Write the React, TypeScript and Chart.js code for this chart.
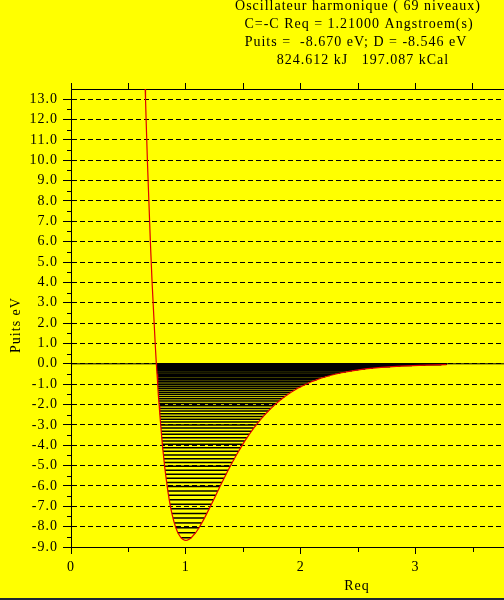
import React, { useEffect, useRef } from 'react';
import { Chart, registerables } from 'chart.js';

Chart.register(...registerables);

// ---- Text ----
const titleLines = [
  'Oscillateur harmonique ( 69 niveaux)',
  'C=-C Req = 1.21000 Angstroem(s)',
  'Puits =  -8.670 eV; D = -8.546 eV',
  '824.612 kJ   197.087 kCal',
];
const xAxisTitle = 'Req';
const yAxisTitle = 'Puits eV';

// ---- Axis ranges ----
const xMin = 0;
const xMax = 3.77;
const yMin = -9;
const yMax = 13.5;

// ---- Vibrational levels (energy in eV, left and right turning points in Req units) ----
const levelE = [
  -8.545, -8.299, -8.056, -7.817, -7.581, -7.349, -7.121, -6.896, -6.675, -6.458,
  -6.244, -6.033, -5.827, -5.624, -5.424, -5.228, -5.036, -4.847, -4.662, -4.480,
  -4.302, -4.128, -3.958, -3.790, -3.627, -3.467, -3.311, -3.158, -3.009, -2.864,
  -2.722, -2.583, -2.449, -2.318, -2.190, -2.066, -1.946, -1.830, -1.717, -1.607,
  -1.501, -1.399, -1.300, -1.205, -1.114, -1.026, -0.942, -0.861, -0.784, -0.711,
  -0.641, -0.575, -0.512, -0.453, -0.398, -0.346, -0.298, -0.254, -0.213, -0.175,
  -0.142, -0.111, -0.085, -0.062, -0.043, -0.027, -0.015, -0.006, -0.001,
];
const levelXL = [
  0.958, 0.930, 0.913, 0.899, 0.888, 0.878, 0.869, 0.862, 0.855, 0.849,
  0.843, 0.837, 0.832, 0.828, 0.823, 0.819, 0.815, 0.811, 0.808, 0.805,
  0.801, 0.798, 0.795, 0.793, 0.790, 0.788, 0.785, 0.783, 0.781, 0.779,
  0.777, 0.775, 0.773, 0.771, 0.769, 0.768, 0.766, 0.765, 0.763, 0.762,
  0.760, 0.759, 0.758, 0.757, 0.756, 0.755, 0.754, 0.753, 0.752, 0.751,
  0.750, 0.750, 0.749, 0.748, 0.748, 0.747, 0.746, 0.746, 0.745, 0.745,
  0.745, 0.744, 0.744, 0.744, 0.743, 0.743, 0.743, 0.743, 0.743,
];
const levelXR = [
  1.047, 1.086, 1.115, 1.139, 1.162, 1.183, 1.203, 1.223, 1.242, 1.261,
  1.279, 1.297, 1.315, 1.333, 1.351, 1.368, 1.386, 1.404, 1.422, 1.440,
  1.458, 1.477, 1.495, 1.514, 1.533, 1.552, 1.571, 1.591, 1.611, 1.632,
  1.653, 1.674, 1.696, 1.718, 1.740, 1.764, 1.787, 1.812, 1.837, 1.862,
  1.889, 1.916, 1.945, 1.974, 2.004, 2.036, 2.068, 2.102, 2.138, 2.175,
  2.214, 2.255, 2.299, 2.345, 2.393, 2.446, 2.502, 2.562, 2.628, 2.700,
  2.779, 2.868, 2.969, 3.086, 3.225, 3.270, 3.270, 3.270, 3.270,
];

// ---- Potential curve (red) ----
const curveX = [
  0.646, 0.649, 0.654, 0.665, 0.678, 0.691, 0.706, 0.724, 0.733, 0.743,
  0.745, 0.749, 0.755, 0.760, 0.768, 0.773, 0.781, 0.788, 0.798, 0.805,
  0.815, 0.828, 0.843, 0.855, 0.869, 0.888, 0.899, 0.913, 0.930, 0.958,
  0.973, 0.988, 1.000, 1.013, 1.029,
  1.047, 1.086, 1.115, 1.139, 1.162, 1.183, 1.223, 1.261, 1.297, 1.333,
  1.368, 1.404, 1.440, 1.477, 1.514, 1.552, 1.591, 1.632, 1.674, 1.718,
  1.764, 1.812, 1.862, 1.916, 1.974, 2.036, 2.102, 2.175, 2.255, 2.345,
  2.446, 2.562, 2.700, 2.868, 3.086, 3.270,
];
const curveY = [
  13.5, 13, 12, 10, 8, 6, 4, 2, 1, 0,
  -0.142, -0.512, -1.026, -1.501, -2.066, -2.449, -3.009, -3.467, -4.128, -4.480,
  -5.036, -5.624, -6.244, -6.675, -7.121, -7.581, -7.817, -8.056, -8.299, -8.545,
  -8.62, -8.66, -8.67, -8.66, -8.62,
  -8.545, -8.299, -8.056, -7.817, -7.581, -7.349, -6.896, -6.458, -6.033, -5.624,
  -5.228, -4.847, -4.480, -4.128, -3.790, -3.467, -3.158, -2.864, -2.583, -2.318,
  -2.066, -1.830, -1.607, -1.399, -1.205, -1.026, -0.861, -0.711, -0.575, -0.453,
  -0.346, -0.254, -0.175, -0.111, -0.062, -0.038,
];

// ---- Zero energy line ----
const zeroLineX = [xMin, xMax];
const zeroLineY = [0, 0];

const FONT = '"Liberation Serif", "Times New Roman", serif';

const decorPlugin = {
  id: 'decor',
  beforeDraw(chart: any) {
    const ctx = chart.ctx;
    ctx.save();
    ctx.fillStyle = '#ffff00';
    ctx.fillRect(0, 0, chart.width, chart.height);
    ctx.restore();
    try { ctx.letterSpacing = '1px'; } catch (e) {}
  },
  afterDraw(chart: any) {
    const ctx = chart.ctx;
    const xs = chart.scales.x;
    const ys = chart.scales.y;
    ctx.save();
    // minor ticks
    ctx.strokeStyle = '#000';
    ctx.lineWidth = 1;
    ctx.beginPath();
    for (let v = yMin + 0.5; v < yMax; v += 1) {
      const p = Math.round(ys.getPixelForValue(v)) + 0.5;
      ctx.moveTo(ys.right - 4, p);
      ctx.lineTo(ys.right, p);
    }
    for (let v = xMin + 0.5; v < xMax; v += 1) {
      const p = Math.round(xs.getPixelForValue(v)) + 0.5;
      ctx.moveTo(p, xs.top);
      ctx.lineTo(p, xs.top + 5);
    }
    ctx.stroke();

    // texts
    try { ctx.letterSpacing = '1px'; } catch (e) {}
    ctx.fillStyle = '#000';
    ctx.font = '14px ' + FONT;
    ctx.textAlign = 'center';
    ctx.textBaseline = 'middle';
    const cx = [358, 359, 356, 363];
    const cy = [6, 24, 42, 60];
    titleLines.forEach((t, i) => ctx.fillText(t, cx[i], cy[i]));
    ctx.fillText(xAxisTitle, 357, 586);
    ctx.save();
    ctx.translate(16, 325);
    ctx.rotate(-Math.PI / 2);
    ctx.fillText(yAxisTitle, 0, 0);
    ctx.restore();

    // bottom window edge
    ctx.fillStyle = '#1c2834';
    ctx.fillRect(0, chart.height - 2, chart.width, 2);
    ctx.restore();
  },
};

export default function App() {
  const ref = useRef<HTMLCanvasElement>(null);

  useEffect(() => {
    if (!ref.current) return;
    const levelSets = levelE.map((e, i) => ({
      label: 'niveau ' + i,
      data: [
        { x: levelXL[i], y: e },
        { x: levelXR[i], y: e },
      ],
      showLine: true,
      borderColor: '#000000',
      borderWidth: 1.5,
      borderCapStyle: 'butt',
      pointRadius: 0,
      order: 1,
    }));
    const chart = new Chart(ref.current, {
      type: 'scatter',
      data: {
        datasets: [
          {
            label: 'Potentiel',
            data: curveX.map((x, i) => ({ x, y: curveY[i] })),
            showLine: true,
            borderColor: '#e00000',
            borderWidth: 1.2,
            pointRadius: 0,
            order: 0,
          },
          ...levelSets,
          {
            label: 'zero',
            data: zeroLineX.map((x, i) => ({ x, y: zeroLineY[i] })),
            showLine: true,
            borderColor: '#000000',
            borderWidth: 1,
            pointRadius: 0,
            order: 2,
          },
        ],
      },
      options: {
        responsive: false,
        animation: false,
        events: [],
        layout: { padding: 0 },
        font: { family: FONT, size: 14 },
        plugins: {
          legend: { display: false },
          tooltip: { enabled: false },
          title: { display: false },
        },
        scales: {
          x: {
            type: 'linear',
            position: 'bottom',
            min: xMin,
            max: xMax,
            afterFit: (s: any) => { s.height = 53; },
            ticks: {
              stepSize: 1,
              includeBounds: false,
              autoSkip: false,
              maxRotation: 0,
              padding: 5,
              color: '#000',
              font: { family: FONT, size: 14 },
              callback: (v: any) => String(v),
            },
            grid: { drawOnChartArea: false, drawTicks: true, tickLength: 7, tickColor: '#000' },
            border: { display: true, color: '#000', width: 1 },
          },
          x2: {
            type: 'linear',
            position: 'top',
            min: xMin,
            max: xMax,
            afterFit: (s: any) => { s.height = 89; },
            ticks: { stepSize: 0.5, includeBounds: false, display: false, autoSkip: false },
            grid: { drawOnChartArea: false, drawTicks: true, tickLength: 6, tickColor: '#000' },
            border: { display: true, color: '#000', width: 1 },
          },
          y: {
            type: 'linear',
            position: 'left',
            min: yMin,
            max: yMax,
            afterFit: (s: any) => { s.width = 71; },
            ticks: {
              stepSize: 1,
              includeBounds: false,
              autoSkip: false,
              padding: 5,
              color: '#000',
              font: { family: FONT, size: 14 },
              callback: (v: any) => Number(v).toFixed(1),
            },
            grid: { color: '#000', lineWidth: 1, drawTicks: true, tickLength: 8, tickColor: '#000' },
            border: { display: true, color: '#000', width: 1, dash: [5, 3] },
          },
        },
      },
      plugins: [decorPlugin],
    } as any);
    return () => chart.destroy();
  }, []);

  return (
    <canvas
      ref={ref}
      width={504}
      height={600}
      style={{ position: 'fixed', left: 0, top: 0, width: 504, height: 600, display: 'block', background: '#ffff00' }}
    />
  );
}
